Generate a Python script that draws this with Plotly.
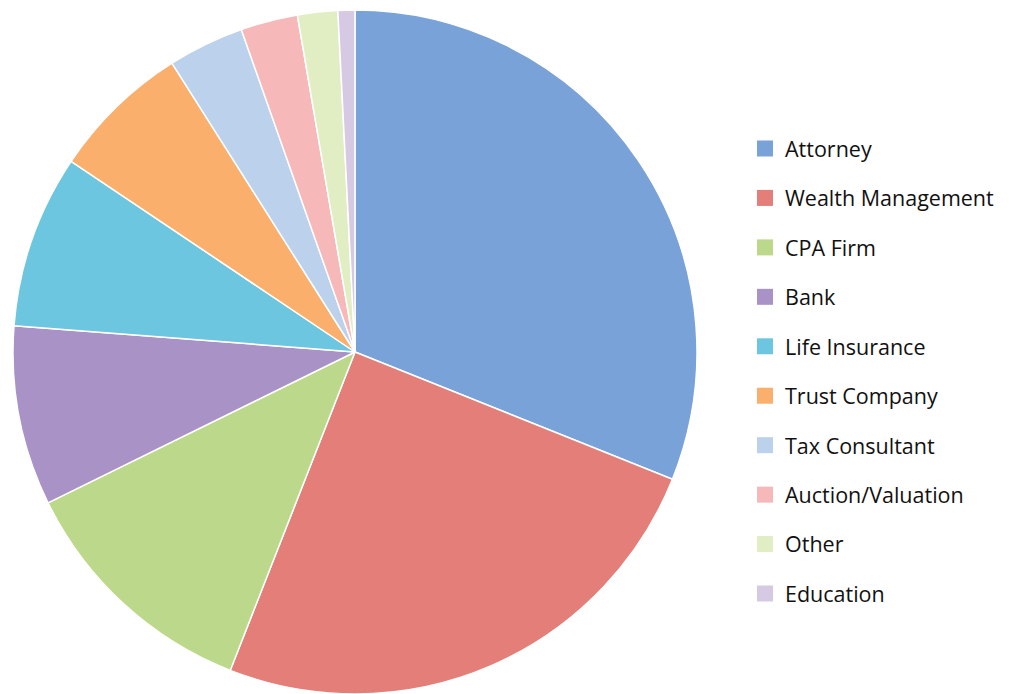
import plotly.graph_objects as go

labels = ["Attorney", "Wealth Management", "CPA Firm", "Bank", "Life Insurance",
          "Trust Company", "Tax Consultant", "Auction/Valuation", "Other", "Education"]
values = [31.1, 24.9, 11.8, 8.5, 8.2, 6.6, 3.6, 2.7, 1.9, 0.8]
colors = ["#79A2D8", "#E37E78", "#BCD88A", "#A992C6", "#6DC6DF",
          "#FAB06C", "#BCD1EC", "#F6B8B8", "#E1EDC2", "#D6C9E4"]

fig = go.Figure()
fig.add_trace(go.Pie(
    labels=labels, values=values, sort=False, direction="clockwise", rotation=0,
    marker=dict(colors=colors, line=dict(color="white", width=1.5)),
    textinfo="none", hoverinfo="label+percent", showlegend=False,
    domain=dict(x=[5/1009, 689/1009], y=[8/694, 692/694]),
))
for lab, col in zip(labels, colors):
    fig.add_trace(go.Scatter(
        x=[None], y=[None], mode="markers", name=lab, legendgroup=lab,
        marker=dict(symbol="square", size=16, color=col),
    ))

fig.update_layout(
    width=1009, height=694,
    margin=dict(l=0, r=0, t=0, b=0),
    paper_bgcolor="white", plot_bgcolor="white",
    xaxis=dict(visible=False), yaxis=dict(visible=False),
    legend=dict(x=737/1009, xanchor="left", y=1 - 363/694, yanchor="middle",
                font=dict(family="Open Sans", size=21.5, color="#111111"),
                tracegroupgap=18.5, bgcolor="rgba(0,0,0,0)"),
)
fig.write_html("out.html")
